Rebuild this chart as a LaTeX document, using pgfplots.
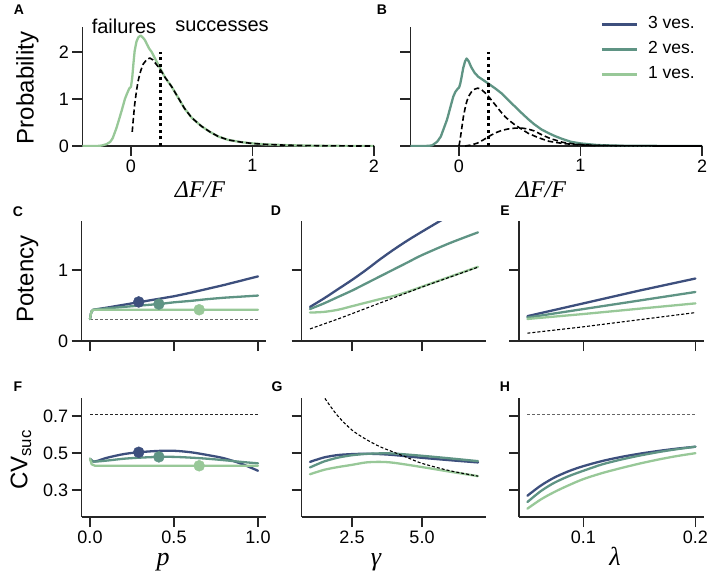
\documentclass[border=0pt]{standalone}
\usepackage{fontspec}
\setmainfont{Liberation Sans}
\newfontfamily\seriffont{Liberation Serif}
\usepackage{pgfplots}
\pgfplotsset{compat=1.18}
\definecolor{cthree}{RGB}{61,79,125}
\definecolor{ctwo}{RGB}{95,148,132}
\definecolor{cone}{RGB}{152,200,152}
\definecolor{spine}{RGB}{38,38,38}
\newcommand{\tickfont}{\fontsize{18}{21}\selectfont}
\pgfplotsset{
 panel/.style={
   scale only axis,
   axis x line*=bottom, axis y line*=left,
   axis line style={-, line width=1.5pt, spine},
   tick align=outside,
   major tick length=10pt,
   tick style={line width=1.5pt, spine},
   tick label style={font=\tickfont},
   /pgf/number format/assume math mode=true,
   clip=true,
 },
 curve/.style={line width=2.3pt, no markers, line join=round, line cap=round},
 scurve/.style={line width=2.3pt, no markers, smooth, tension=0.5, line join=round, line cap=round},
 thindash/.style={line width=1.1pt, dash pattern=on 3pt off 2pt, no markers},
 bdash/.style={line width=1.6pt, black, dash pattern=on 5.5pt off 3pt, no markers, line join=round},
 vdot/.style={line width=3.3pt, black, dash pattern=on 3.3pt off 3.3pt, no markers},
}
\begin{document}
\begin{tikzpicture}
\useasboundingbox (0pt,0pt) rectangle (710pt,-578pt);
% ---------------- A ----------------
\begin{axis}[panel, at={(82.4pt,-146pt)}, anchor=south west, width=291.6pt, height=119pt,
  xmin=-0.4, xmax=2, ymin=0, ymax=2.53, xtick={0,1,2}, ytick={0,1,2}]
\addplot[curve, cone] coordinates {
(-0.40,0) (-0.30,0.0005) (-0.27,0.002) (-0.24,0.01) (-0.20,0.04) (-0.17,0.09) (-0.15,0.17)
(-0.12,0.38) (-0.10,0.55) (-0.077,0.75) (-0.05,1.0) (-0.035,1.1) (-0.015,1.22) (0.0,1.26)
(0.01,1.45) (0.02,1.75) (0.03,2.02) (0.045,2.22) (0.06,2.31) (0.08,2.35) (0.10,2.30)
(0.115,2.25) (0.13,2.17) (0.15,2.07) (0.17,2.00) (0.20,1.85) (0.24,1.65) (0.28,1.46)
(0.335,1.26) (0.39,1.02) (0.44,0.80) (0.50,0.60) (0.58,0.42) (0.65,0.30) (0.72,0.20)
(0.80,0.13) (0.90,0.085) (0.98,0.06) (1.10,0.035) (1.25,0.02) (1.40,0.01) (1.60,0.004)
(1.80,0.001) (2.00,0)};
\addplot[bdash] coordinates {
(0.01,0.30) (0.02,0.60) (0.03,0.88) (0.045,1.17) (0.06,1.40) (0.08,1.60) (0.10,1.74)
(0.13,1.84) (0.156,1.87) (0.18,1.83) (0.21,1.73) (0.24,1.63) (0.28,1.46)
(0.335,1.26) (0.39,1.02) (0.44,0.80) (0.50,0.60) (0.58,0.42) (0.65,0.30) (0.72,0.20)
(0.80,0.13) (0.90,0.085) (0.98,0.06) (1.10,0.035) (1.25,0.02) (1.40,0.01) (1.60,0.004)
(1.80,0.001) (2.00,0)};
\addplot[vdot] coordinates {(0.24,0) (0.24,2.0)};
\end{axis}
% ---------------- B ----------------
\begin{axis}[panel, at={(410.4pt,-146pt)}, anchor=south west, width=291.6pt, height=119pt,
  xmin=-0.4, xmax=2, ymin=0, ymax=2.53, xtick={0,1,2}, ytick={0,1,2}, yticklabels={},
  legend style={at={(rel axis cs:1,1)}, anchor=north east, xshift=-4pt, yshift=13pt,
    draw=none, fill=none, font=\fontsize{17.5}{20}\selectfont, row sep=8.5pt,
    nodes={inner xsep=0pt, inner ysep=0pt, text height=12.5pt, text depth=4pt},
    /tikz/every odd column/.style={column sep=10pt}},
  legend cell align=left,
  legend image code/.code={\draw[#1] (0pt,0pt) -- (35pt,0pt);}]
\addlegendimage{cthree, line width=2.5pt}\addlegendentry{3 ves.}
\addlegendimage{ctwo, line width=2.5pt}\addlegendentry{2 ves.}
\addlegendimage{cone, line width=2.5pt}\addlegendentry{1 ves.}
\addplot[curve, ctwo, forget plot] coordinates {
(-0.40,0) (-0.30,0.0005) (-0.25,0.003) (-0.22,0.015) (-0.18,0.09) (-0.15,0.2) (-0.13,0.34)
(-0.10,0.55) (-0.088,0.66) (-0.06,0.93) (-0.047,1.05) (-0.03,1.15) (-0.01,1.22) (0.0,1.24)
(0.01,1.32) (0.02,1.45) (0.035,1.66) (0.05,1.80) (0.063,1.86) (0.08,1.80) (0.10,1.68)
(0.13,1.55) (0.16,1.47) (0.20,1.40) (0.24,1.33) (0.30,1.22) (0.35,1.12) (0.40,0.99)
(0.46,0.84) (0.52,0.69) (0.57,0.57) (0.62,0.46) (0.68,0.35) (0.74,0.27) (0.79,0.21)
(0.85,0.15) (0.92,0.09) (1.0,0.055) (1.14,0.02) (1.3,0.008) (1.5,0.003) (1.8,0.001) (2.0,0)};
\addplot[bdash, forget plot] coordinates {
(0.0,0) (0.01,0.15) (0.02,0.33) (0.036,0.62) (0.05,0.8) (0.063,0.94) (0.08,1.06) (0.105,1.16)
(0.13,1.21) (0.155,1.23) (0.18,1.21) (0.215,1.13) (0.25,1.03) (0.30,0.87) (0.34,0.74)
(0.38,0.62) (0.42,0.53) (0.46,0.45) (0.52,0.35) (0.57,0.27) (0.65,0.18) (0.74,0.10)
(0.85,0.055) (0.95,0.03) (1.1,0.012) (1.3,0.004) (1.6,0.001) (2.0,0)};
\addplot[bdash, forget plot] coordinates {
(0.05,0) (0.10,0.02) (0.15,0.06) (0.20,0.13) (0.25,0.21) (0.30,0.28) (0.35,0.33) (0.40,0.36)
(0.46,0.38) (0.52,0.38) (0.57,0.36) (0.62,0.32) (0.68,0.24) (0.75,0.16) (0.85,0.08)
(0.95,0.04) (1.1,0.015) (1.3,0.005) (1.6,0.001) (2.0,0)};
\addplot[vdot, forget plot] coordinates {(0.245,0) (0.245,2.0)};
\end{axis}
% ---------------- C ----------------
\begin{axis}[panel, at={(81.6pt,-341pt)}, anchor=south west, width=184.8pt, height=120pt,
  xmin=-0.05, xmax=1.05, ymin=0, ymax=1.69, xtick={0,0.5,1}, xticklabels={}, ytick={0,1}]
\addplot[thindash, black!60] coordinates {(0,0.3) (1,0.3)};
\addplot[curve, cthree] coordinates {(0,0.31) (0.005,0.38) (0.01,0.42) (0.02,0.44) (0.1,0.47)
 (0.2,0.51) (0.3,0.55) (0.4,0.59) (0.5,0.63) (0.6,0.68) (0.7,0.735) (0.8,0.79) (0.9,0.85) (1.0,0.91)};
\addplot[curve, ctwo] coordinates {(0,0.31) (0.005,0.38) (0.01,0.42) (0.02,0.44) (0.1,0.46)
 (0.2,0.48) (0.3,0.50) (0.41,0.52) (0.5,0.545) (0.6,0.565) (0.7,0.59) (0.8,0.61) (0.9,0.625) (1.0,0.64)};
\addplot[curve, cone] coordinates {(0,0.31) (0.005,0.38) (0.01,0.42) (0.02,0.44) (0.5,0.44) (1.0,0.44)};
\addplot[only marks, mark=*, mark size=5.5pt, cthree] coordinates {(0.29,0.55)};
\addplot[only marks, mark=*, mark size=5.5pt, ctwo] coordinates {(0.41,0.52)};
\addplot[only marks, mark=*, mark size=5.5pt, cone] coordinates {(0.65,0.44)};
\end{axis}
% ---------------- D ----------------
\begin{axis}[panel, at={(301.6pt,-341pt)}, anchor=south west, width=184.8pt, height=120pt,
  xmin=0.7, xmax=7.3, ymin=0, ymax=1.69, xtick={2.5,5}, xticklabels={}, ytick={0,1}, yticklabels={}]
\addplot[scurve, cthree] coordinates {(1,0.48) (1.5,0.60) (2,0.73) (2.5,0.86) (3,1.0) (3.5,1.15)
 (4,1.29) (4.5,1.42) (5,1.54) (5.6,1.68) (6,1.77)};
\addplot[scurve, ctwo] coordinates {(1,0.45) (1.5,0.53) (2,0.62) (2.5,0.71) (3,0.81) (3.5,0.91)
 (4,1.01) (4.5,1.11) (5,1.21) (6,1.38) (7,1.53)};
\addplot[scurve, cone] coordinates {(1,0.40) (1.5,0.41) (2,0.44) (2.5,0.49) (3,0.54) (3.5,0.59)
 (4,0.635) (4.5,0.695) (5,0.765) (6,0.905) (7,1.045)};
\addplot[thindash, black] coordinates {(1,0.17) (2,0.31) (3,0.46) (4,0.61) (5,0.76) (6,0.90) (7,1.04)};
\end{axis}
% ---------------- E ----------------
\begin{axis}[panel, at={(519pt,-341pt)}, anchor=south west, width=184.8pt, height=120pt,
  xmin=0.0425, xmax=0.2075, ymin=0, ymax=1.69, xtick={0.1,0.2}, xticklabels={}, ytick={0,1}, yticklabels={}]
\addplot[curve, cthree] coordinates {(0.05,0.35) (0.1,0.53) (0.15,0.71) (0.2,0.88)};
\addplot[curve, ctwo] coordinates {(0.05,0.33) (0.1,0.45) (0.15,0.57) (0.2,0.69)};
\addplot[curve, cone] coordinates {(0.05,0.31) (0.1,0.38) (0.15,0.455) (0.2,0.53)};
\addplot[thindash, black] coordinates {(0.05,0.11) (0.1,0.20) (0.15,0.30) (0.2,0.40)};
\end{axis}
% ---------------- F ----------------
\begin{axis}[panel, at={(81.6pt,-517pt)}, anchor=south west, width=184.8pt, height=119.3pt,
  xmin=-0.05, xmax=1.05, ymin=0.155, ymax=0.8, xtick={0,0.5,1}, xticklabels={0.0,0.5,1.0},
  ytick={0.3,0.5,0.7}, yticklabels={0.3,0.5,0.7}]
\addplot[thindash, black!85] coordinates {(0,0.707) (1,0.707)};
\addplot[scurve, cthree] coordinates {(0,0.47) (0.02,0.455) (0.05,0.46) (0.1,0.475) (0.2,0.495)
 (0.29,0.505) (0.4,0.512) (0.5,0.513) (0.6,0.505) (0.7,0.49) (0.8,0.472) (0.9,0.443) (1.0,0.405)};
\addplot[scurve, ctwo] coordinates {(0,0.47) (0.02,0.455) (0.1,0.46) (0.2,0.47) (0.3,0.476)
 (0.41,0.48) (0.5,0.48) (0.6,0.476) (0.7,0.47) (0.8,0.462) (0.9,0.453) (1.0,0.445)};
\addplot[curve, cone] coordinates {(0,0.47) (0.01,0.44) (0.03,0.432) (0.5,0.432) (1.0,0.432)};
\addplot[only marks, mark=*, mark size=5.5pt, cthree] coordinates {(0.29,0.505)};
\addplot[only marks, mark=*, mark size=5.5pt, ctwo] coordinates {(0.41,0.48)};
\addplot[only marks, mark=*, mark size=5.5pt, cone] coordinates {(0.65,0.432)};
\end{axis}
% ---------------- G ----------------
\begin{axis}[panel, at={(301.6pt,-517pt)}, anchor=south west, width=184.8pt, height=119.3pt,
  xmin=0.7, xmax=7.3, ymin=0.155, ymax=0.8, xtick={2.5,5}, xticklabels={2.5,5.0},
  ytick={0.3,0.5,0.7}, yticklabels={}]
\addplot[scurve, cthree] coordinates {(1,0.453) (1.5,0.477) (2,0.49) (2.5,0.495) (3,0.497)
 (3.5,0.495) (4,0.49) (5,0.475) (6,0.462) (7,0.45)};
\addplot[scurve, ctwo] coordinates {(1,0.423) (1.5,0.455) (2,0.476) (2.5,0.489) (3,0.496)
 (3.5,0.499) (4,0.498) (5,0.486) (6,0.472) (7,0.457)};
\addplot[scurve, cone] coordinates {(1,0.386) (1.5,0.41) (2,0.425) (2.5,0.437) (3,0.45)
 (3.5,0.453) (4,0.448) (5,0.425) (6,0.40) (7,0.376)};
\addplot[thindash, black, smooth] coordinates {(1.45,0.82) (1.56,0.79) (2.0,0.70) (2.5,0.625) (3.0,0.575)
 (3.5,0.535) (4.0,0.505) (4.5,0.475) (5.0,0.445) (6.0,0.405) (7.0,0.376)};
\end{axis}
% ---------------- H ----------------
\begin{axis}[panel, at={(519pt,-517pt)}, anchor=south west, width=184.8pt, height=119.3pt,
  xmin=0.0425, xmax=0.2075, ymin=0.155, ymax=0.8, xtick={0.1,0.2}, xticklabels={0.1,0.2},
  ytick={0.3,0.5,0.7}, yticklabels={}]
\addplot[thindash, black!60] coordinates {(0.05,0.707) (0.2,0.707)};
\addplot[scurve, cthree] coordinates {(0.05,0.27) (0.062,0.325) (0.074,0.368) (0.087,0.403) (0.1,0.43)
 (0.117,0.458) (0.134,0.48) (0.151,0.498) (0.168,0.513) (0.184,0.525) (0.2,0.535)};
\addplot[scurve, ctwo] coordinates {(0.05,0.236) (0.062,0.295) (0.074,0.34) (0.087,0.376) (0.1,0.405)
 (0.117,0.44) (0.134,0.466) (0.151,0.488) (0.168,0.507) (0.184,0.522) (0.2,0.535)};
\addplot[scurve, cone] coordinates {(0.05,0.20) (0.062,0.25) (0.074,0.29) (0.087,0.327) (0.1,0.36)
 (0.117,0.393) (0.134,0.42) (0.151,0.445) (0.168,0.467) (0.184,0.485) (0.2,0.50)};
\end{axis}
% ---------------- texts ----------------
\begin{scope}[every node/.style={font=\fontsize{14}{14}\selectfont\bfseries, inner sep=0pt}]
\node at (19pt,-10pt) {A};
\node at (382pt,-10pt) {B};
\node at (18pt,-212pt) {C};
\node at (276pt,-211pt) {D};
\node at (505pt,-211pt) {E};
\node at (18pt,-387pt) {F};
\node at (277pt,-387pt) {G};
\node at (505pt,-387pt) {H};
\end{scope}
\node[font=\fontsize{20}{20}\selectfont, inner sep=0pt] at (124pt,-26pt) {failures};
\node[font=\fontsize{20}{20}\selectfont, inner sep=0pt] at (222pt,-26pt) {successes};
\node[font=\fontsize{24}{24}\selectfont, rotate=90, inner sep=0pt] at (27.5pt,-88pt) {Probability};
\node[font=\fontsize{24}{24}\selectfont, rotate=90, inner sep=0pt] at (27.5pt,-279pt) {Potency};
\node[font=\fontsize{24}{24}\selectfont, rotate=90, inner sep=0pt] at (21pt,-460pt) {CV\textsubscript{suc}};
\node[font=\seriffont\itshape\fontsize{24}{24}\selectfont, anchor=base, inner sep=0pt] at (200pt,-197pt) {ΔF/F};
\node[font=\seriffont\itshape\fontsize{24}{24}\selectfont, anchor=base, inner sep=0pt] at (541pt,-197pt) {ΔF/F};
\node[font=\seriffont\itshape\fontsize{26}{26}\selectfont, anchor=base, inner sep=0pt] at (163pt,-565pt) {p};
\node[font=\seriffont\itshape\fontsize{26}{26}\selectfont, anchor=base, inner sep=0pt] at (376pt,-565pt) {γ};
\node[font=\seriffont\itshape\fontsize{26}{26}\selectfont, anchor=base, inner sep=0pt] at (615pt,-565pt) {λ};
\end{tikzpicture}
\end{document}
